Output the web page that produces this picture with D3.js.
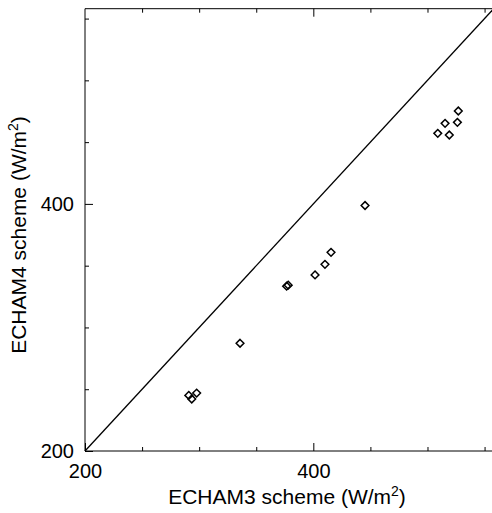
<!DOCTYPE html>
<html>
<head>
<meta charset="utf-8">
<script src="https://cdn.jsdelivr.net/npm/d3@7"></script>
<style>
  body { margin: 0; background: #fff; }
  svg { display: block; font-family: "Liberation Sans", Arial, sans-serif; }
  .axis path, .axis line { stroke: #000; stroke-width: 1; }
  .axis text { fill: #000; font-size: 20px; }
</style>
</head>
<body>
<svg id="chart" width="492" height="513"></svg>
<script>
// ECHAM3 vs ECHAM4 scheme values (W/m2)
const echam3 = [290.9, 297.8, 293.5, 335.8, 376.6, 378.0, 401.5, 410.2, 415.5, 445.3, 509.0, 519.1, 515.4, 526.2, 527.0];
const echam4 = [245.0, 246.9, 242.1, 287.2, 333.4, 334.2, 342.5, 351.1, 360.8, 398.7, 457.1, 455.8, 465.2, 466.0, 475.2];
const majorTicks = [200, 400];
const minorTicks = [250, 300, 350, 450, 500, 550];
const domainMin = 200, domainMax = 558;

const svg = d3.select('#chart');

const x = d3.scaleLinear().domain([domainMin, domainMax]).range([85, 493.7]);
const y = d3.scaleLinear().domain([domainMin, domainMax]).range([451, 8.7]);

// frame lines
svg.append('line')
  .attr('x1', x(domainMin)).attr('x2', x(domainMin))
  .attr('y1', y(domainMin)).attr('y2', y(domainMax))
  .attr('stroke', '#000');
svg.append('line')
  .attr('x1', x(domainMin)).attr('x2', x(domainMax))
  .attr('y1', y(domainMin)).attr('y2', y(domainMin))
  .attr('stroke', '#000');
svg.append('line')
  .attr('x1', x(domainMin)).attr('x2', x(domainMax))
  .attr('y1', y(domainMax)).attr('y2', y(domainMax))
  .attr('stroke', '#000');

// bottom axis
svg.append('g').attr('class', 'axis')
  .attr('transform', 'translate(0,' + y(domainMin) + ')')
  .call(d3.axisBottom(x).tickValues(minorTicks).tickSize(-4).tickFormat(''))
  .call(g => g.select('.domain').remove());
svg.append('g').attr('class', 'axis')
  .attr('transform', 'translate(0,' + y(domainMin) + ')')
  .call(d3.axisBottom(x).tickValues(majorTicks).tickSize(-8).tickPadding(13).tickFormat(d3.format('d')))
  .call(g => g.select('.domain').remove());

// top axis (ticks only)
svg.append('g').attr('class', 'axis')
  .attr('transform', 'translate(0,' + y(domainMax) + ')')
  .call(d3.axisTop(x).tickValues(minorTicks).tickSize(-4).tickFormat(''))
  .call(g => g.select('.domain').remove());
svg.append('g').attr('class', 'axis')
  .attr('transform', 'translate(0,' + y(domainMax) + ')')
  .call(d3.axisTop(x).tickValues([400]).tickSize(-8).tickFormat(''))
  .call(g => g.select('.domain').remove());

// left axis
svg.append('g').attr('class', 'axis')
  .attr('transform', 'translate(' + x(domainMin) + ',0)')
  .call(d3.axisLeft(y).tickValues(minorTicks).tickSize(-4).tickFormat(''))
  .call(g => g.select('.domain').remove());
svg.append('g').attr('class', 'axis')
  .attr('transform', 'translate(' + x(domainMin) + ',0)')
  .call(d3.axisLeft(y).tickValues(majorTicks).tickSize(-8).tickPadding(11).tickFormat(d3.format('d')))
  .call(g => g.select('.domain').remove());

// 1:1 line
svg.append('line')
  .attr('x1', x(domainMin)).attr('y1', y(domainMin))
  .attr('x2', x(domainMax)).attr('y2', y(domainMax))
  .attr('stroke', '#000').attr('stroke-width', 1.3);

// diamonds
const diamond = d3.symbol().type(d3.symbolDiamond2).size(38);
svg.append('g').selectAll('path')
  .data(echam3.map((d, i) => [d, echam4[i]]))
  .join('path')
  .attr('d', diamond)
  .attr('transform', d => 'translate(' + x(d[0]) + ',' + y(d[1]) + ')')
  .attr('fill', 'none')
  .attr('stroke', '#000')
  .attr('stroke-width', 1.5);

// axis titles
svg.append('text')
  .attr('x', 287).attr('y', 504)
  .attr('text-anchor', 'middle')
  .attr('font-size', 21)
  .html('ECHAM3 scheme (W/m<tspan dy="-8" font-size="14">2</tspan><tspan dy="8">)</tspan>');

svg.append('text')
  .attr('transform', 'translate(26,235) rotate(-90)')
  .attr('text-anchor', 'middle')
  .attr('font-size', 21)
  .html('ECHAM4 scheme (W/m<tspan dy="-8" font-size="14">2</tspan><tspan dy="8">)</tspan>');
</script>
</body>
</html>
